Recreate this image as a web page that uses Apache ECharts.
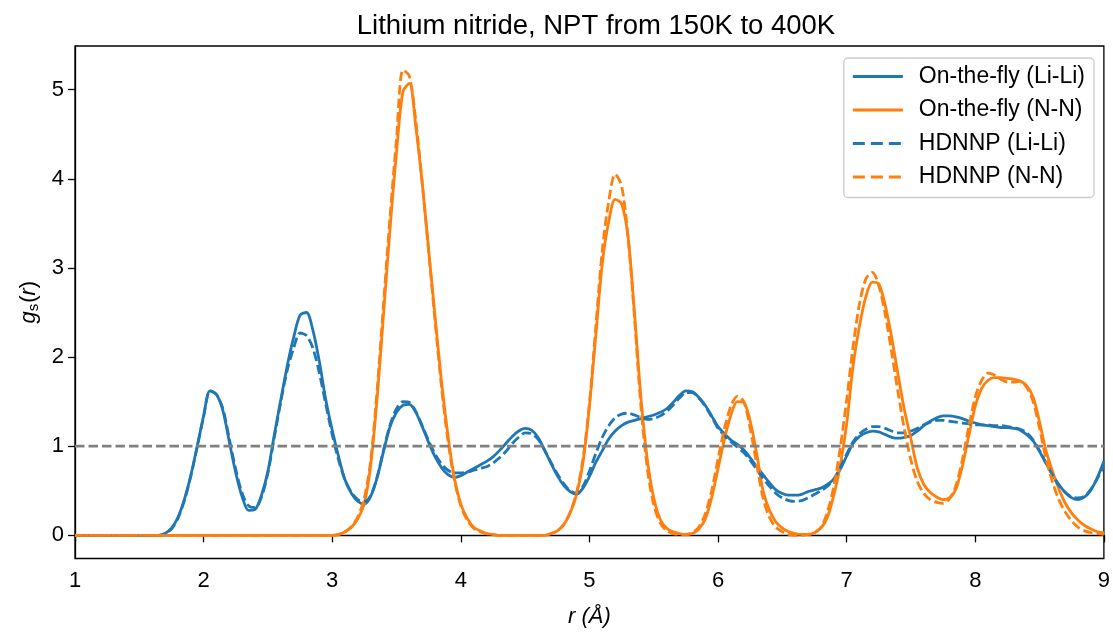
<!DOCTYPE html>
<html>
<head>
<meta charset="utf-8">
<script src="https://cdn.jsdelivr.net/npm/echarts@6/dist/echarts.min.js"></script>
<style>
html,body{margin:0;padding:0;background:#fff;}
#chart{width:1113px;height:633px;}
</style>
</head>
<body>
<div id="chart"></div>
<script>
// r grid (Å)
const R = [
1.00,1.05,1.10,1.15,1.20,1.25,1.30,1.35,1.40,1.45,1.50,1.55,1.60,1.65,1.70,1.75,1.80,1.85,1.90,1.95,
2.00,2.05,2.10,2.15,2.20,2.25,2.30,2.35,2.40,2.45,2.50,2.55,2.60,2.65,2.70,2.75,2.80,2.85,2.90,2.95,
3.00,3.05,3.10,3.15,3.20,3.25,3.30,3.35,3.40,3.45,3.50,3.55,3.60,3.65,3.70,3.75,3.80,3.85,3.90,3.95,
4.00,4.05,4.10,4.15,4.20,4.25,4.30,4.35,4.40,4.45,4.50,4.55,4.60,4.65,4.70,4.75,4.80,4.85,4.90,4.95,
5.00,5.05,5.10,5.15,5.20,5.25,5.30,5.35,5.40,5.45,5.50,5.55,5.60,5.65,5.70,5.75,5.80,5.85,5.90,5.95,
6.00,6.05,6.10,6.15,6.20,6.25,6.30,6.35,6.40,6.45,6.50,6.55,6.60,6.65,6.70,6.75,6.80,6.85,6.90,6.95,
7.00,7.05,7.10,7.15,7.20,7.25,7.30,7.35,7.40,7.45,7.50,7.55,7.60,7.65,7.70,7.75,7.80,7.85,7.90,7.95,
8.00,8.05,8.10,8.15,8.20,8.25,8.30,8.35,8.40,8.45,8.50,8.55,8.60,8.65,8.70,8.75,8.80,8.85,8.90,8.95,
9.00];

// On-the-fly (Li-Li)
const flyLiLi = [
0,0,0,0,0,0,0,0,0,0,0,0,0,0.00,0.02,0.08,0.20,0.40,0.67,1.00,
1.34,1.62,1.58,1.40,1.05,0.70,0.43,0.28,0.29,0.45,0.72,1.13,1.52,1.90,2.22,2.47,2.50,2.30,1.95,1.52,
1.18,0.88,0.62,0.47,0.38,0.35,0.44,0.65,0.95,1.22,1.38,1.46,1.47,1.38,1.22,1.04,0.88,0.76,0.68,0.65,
0.67,0.71,0.75,0.79,0.83,0.88,0.95,1.03,1.11,1.17,1.20,1.18,1.10,0.96,0.81,0.67,0.56,0.49,0.46,0.53,
0.66,0.82,0.95,1.08,1.17,1.23,1.27,1.29,1.31,1.33,1.35,1.38,1.42,1.49,1.57,1.62,1.61,1.55,1.46,1.34,
1.22,1.14,1.07,1.02,0.96,0.87,0.77,0.68,0.59,0.51,0.47,0.45,0.45,0.46,0.49,0.51,0.53,0.57,0.63,0.74,
0.89,1.03,1.11,1.15,1.17,1.16,1.13,1.10,1.09,1.10,1.12,1.17,1.23,1.28,1.32,1.34,1.34,1.33,1.31,1.28,
1.26,1.24,1.23,1.22,1.21,1.21,1.20,1.18,1.13,1.06,0.94,0.81,0.68,0.57,0.48,0.42,0.40,0.43,0.51,0.65,
0.83];

// On-the-fly (N-N)
const flyNN = [
0,0,0,0,0,0,0,0,0,0,0,0,0,0,0,0,0,0,0,0,
0,0,0,0,0,0,0,0,0,0,0,0,0,0,0,0,0,0,0,0,
0.00,0.01,0.04,0.09,0.19,0.36,0.80,1.55,2.50,3.45,4.30,4.98,5.07,4.58,3.95,3.20,2.45,1.72,1.12,0.64,
0.35,0.19,0.09,0.05,0.02,0.01,0,0,0,0,0,0,0,0,0.02,0.05,0.12,0.25,0.46,0.82,
1.45,2.25,3.05,3.52,3.77,3.72,3.35,2.50,1.55,0.85,0.42,0.18,0.08,0.04,0.02,0.01,0.02,0.07,0.18,0.42,
0.75,1.08,1.35,1.50,1.49,1.28,0.92,0.50,0.28,0.15,0.08,0.04,0.02,0.01,0.01,0.03,0.08,0.20,0.45,0.78,
1.25,1.90,2.35,2.68,2.84,2.82,2.58,2.22,1.80,1.40,1.08,0.75,0.57,0.48,0.43,0.40,0.42,0.52,0.78,1.12,
1.45,1.65,1.74,1.77,1.77,1.76,1.75,1.73,1.68,1.55,1.27,0.95,0.72,0.52,0.36,0.25,0.17,0.11,0.07,0.04,
0.03];

// HDNNP (Li-Li)
const hdLiLi = [
0,0,0,0,0,0,0,0,0,0,0,0,0,0.00,0.02,0.07,0.19,0.39,0.66,0.99,
1.33,1.62,1.58,1.42,1.08,0.74,0.47,0.33,0.31,0.43,0.70,1.10,1.50,1.85,2.10,2.27,2.24,2.10,1.82,1.47,
1.13,0.84,0.62,0.48,0.40,0.38,0.45,0.66,0.96,1.24,1.42,1.50,1.49,1.39,1.23,1.06,0.91,0.80,0.73,0.70,
0.70,0.71,0.73,0.75,0.77,0.81,0.87,0.94,1.03,1.10,1.15,1.14,1.08,0.96,0.82,0.69,0.58,0.50,0.47,0.55,
0.72,0.92,1.10,1.23,1.32,1.36,1.37,1.35,1.32,1.30,1.31,1.34,1.39,1.46,1.54,1.60,1.60,1.54,1.45,1.33,
1.20,1.12,1.05,0.99,0.93,0.84,0.74,0.64,0.55,0.47,0.42,0.39,0.38,0.39,0.42,0.46,0.50,0.55,0.63,0.76,
0.91,1.05,1.14,1.19,1.22,1.22,1.20,1.17,1.15,1.15,1.17,1.20,1.24,1.27,1.29,1.29,1.28,1.27,1.26,1.25,
1.24,1.24,1.24,1.23,1.23,1.22,1.21,1.19,1.15,1.07,0.95,0.81,0.68,0.56,0.48,0.43,0.42,0.44,0.52,0.64,
0.78];

// HDNNP (N-N)
const hdNN = [
0,0,0,0,0,0,0,0,0,0,0,0,0,0,0,0,0,0,0,0,
0,0,0,0,0,0,0,0,0,0,0,0,0,0,0,0,0,0,0,0,
0.00,0.01,0.04,0.10,0.21,0.42,0.85,1.65,2.62,3.58,4.45,5.22,5.15,4.65,3.95,3.18,2.40,1.66,1.06,0.62,
0.33,0.17,0.08,0.04,0.02,0.01,0,0,0,0,0,0,0,0,0.02,0.05,0.12,0.26,0.48,0.86,
1.48,2.35,3.20,3.75,4.05,3.92,3.35,2.45,1.45,0.75,0.34,0.14,0.05,0.02,0.01,0.01,0.03,0.09,0.24,0.50,
0.86,1.20,1.45,1.56,1.50,1.20,0.80,0.42,0.20,0.09,0.04,0.01,0,0,0.01,0.03,0.09,0.26,0.55,0.98,
1.52,2.12,2.60,2.88,2.95,2.80,2.48,2.05,1.60,1.18,0.84,0.60,0.47,0.40,0.37,0.36,0.41,0.56,0.85,1.22,
1.55,1.74,1.82,1.80,1.75,1.72,1.72,1.73,1.66,1.50,1.20,0.86,0.60,0.40,0.26,0.16,0.09,0.05,0.03,0.02,
0.01];

const xTicks = [1,2,3,4,5,6,7,8,9];
const yTicks = [0,1,2,3,4,5];
const refLine = [[1,1],[9,1]];

const FONT = "'Liberation Sans', Arial, sans-serif";
const BLUE = '#1f77b4', ORANGE = '#ff7f0e';
const LW = 2.8;
const DASH = [9.5, 4];
const ICON_SOLID = 'path://M0,0H50V3H0Z';
const ICON_DASH = 'path://M0,0H12V3H0Z M18,0H30V3H18Z M36,0H48V3H36Z M49.9,0H50V3H49.9Z';

function pairs(v){ return R.map((r,i)=>[r, v[i]]); }
function lineSeries(name, vals, color, dashed){
  return {
    name: name, type: 'line', data: pairs(vals), showSymbol: false, symbol: 'none',
    smooth: 0.3, clip: true, z: 2,
    itemStyle: {color: color},
    lineStyle: {color: color, width: LW, type: dashed ? DASH : 'solid', cap: 'butt'},
    emphasis: {disabled: true}
  };
}

const chart = echarts.init(document.getElementById('chart'), null, {renderer: 'canvas'});
chart.setOption({
  animation: false,
  backgroundColor: '#ffffff',
  textStyle: {fontFamily: FONT},
  title: {
    text: 'Lithium nitride, NPT from 150K to 400K',
    left: 591, top: 7, textAlign: 'center',
    textStyle: {fontFamily: FONT, fontSize: 27.5, fontWeight: 'normal', color: '#000'}
  },
  grid: {left: 75, right: 8, top: 46, bottom: 74.5, show: true, borderColor: '#000', borderWidth: 1.3, backgroundColor: 'transparent'},
  legend: {
    data: [
      {name: 'On-the-fly (Li-Li)', icon: ICON_SOLID},
      {name: 'On-the-fly (N-N)', icon: ICON_SOLID},
      {name: 'HDNNP (Li-Li)', icon: ICON_DASH},
      {name: 'HDNNP (N-N)', icon: ICON_DASH}
    ],
    orient: 'vertical', right: 19, top: 58,
    padding: [7, 9, 9, 9],
    itemWidth: 50, itemHeight: 3, itemGap: 10.5,
    backgroundColor: 'rgba(255,255,255,0.8)', borderColor: '#cccccc', borderWidth: 1.3, borderRadius: 4,
    textStyle: {fontFamily: FONT, fontSize: 23, color: '#000', lineHeight: 23, padding: [0, 0, 0, 11]},
    selectedMode: false
  },
  xAxis: {
    type: 'value', min: 1, max: 9, interval: 1,
    name: '{i|r (Å)}', nameLocation: 'middle', nameGap: 47,
    nameTextStyle: {rich: {i: {fontFamily: FONT, fontSize: 22, fontStyle: 'italic', color: '#000'}}},
    axisLine: {show: true, lineStyle: {color: '#000', width: 1.3}},
    axisTick: {show: true, inside: false, length: 7, lineStyle: {color: '#000', width: 1.3}},
    axisLabel: {fontFamily: FONT, fontSize: 22, color: '#000', margin: 11,
      formatter: v => xTicks.includes(v) ? String(v) : ''},
    splitLine: {show: false}
  },
  yAxis: {
    type: 'value', min: -0.26, max: 5.49,
    name: '{i|g}{s|s}{n|(}{i|r}{n|)}', nameLocation: 'middle', nameGap: 34, nameRotate: 90,
    nameTextStyle: {rich: {
      i: {fontFamily: FONT, fontSize: 22, fontStyle: 'italic', color: '#000'},
      n: {fontFamily: FONT, fontSize: 22, color: '#000'},
      s: {fontFamily: FONT, fontSize: 15, color: '#000', padding: [8, 1, 0, 0]}
    }},
    axisLine: {show: true, lineStyle: {color: '#000', width: 1.3}},
    axisTick: {show: true, inside: false, length: 7, customValues: yTicks, lineStyle: {color: '#000', width: 1.3}},
    axisLabel: {fontFamily: FONT, fontSize: 22, color: '#000', margin: 11, customValues: yTicks},
    splitLine: {show: false}
  },
  series: [
    lineSeries('On-the-fly (Li-Li)', flyLiLi, BLUE, false),
    lineSeries('On-the-fly (N-N)', flyNN, ORANGE, false),
    lineSeries('HDNNP (Li-Li)', hdLiLi, BLUE, true),
    lineSeries('HDNNP (N-N)', hdNN, ORANGE, true),
    {
      name: 'ref', type: 'line', data: refLine, showSymbol: false, symbol: 'none', z: 3,
      lineStyle: {color: '#808080', width: LW, type: DASH}, itemStyle: {color: '#808080'},
      emphasis: {disabled: true}
    }
  ]
});
</script>
</body>
</html>
